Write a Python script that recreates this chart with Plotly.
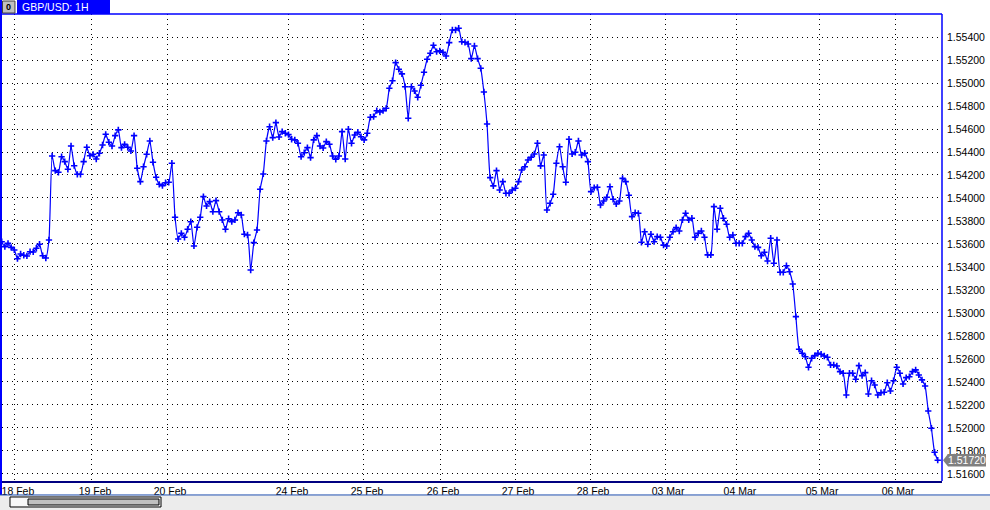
import plotly.graph_objects as go

chart_title = "GBP/USD: 1H"

# hourly closes (bar 0 .. bar 297)
close = [
    1.53620, 1.53577, 1.53606, 1.53571, 1.53548, 1.53472, 1.53513, 1.53502, 1.53496, 1.53533,
    1.53531, 1.53563, 1.53598, 1.53498, 1.53478, 1.53635, 1.54365, 1.54238, 1.54224, 1.54359,
    1.54316, 1.54250, 1.54452, 1.54281, 1.54206, 1.54206, 1.54316, 1.54441, 1.54367, 1.54380,
    1.54339, 1.54389, 1.54461, 1.54554, 1.54485, 1.54452, 1.54542, 1.54592, 1.54438, 1.54467,
    1.54441, 1.54409, 1.54542, 1.54259, 1.54142, 1.54272, 1.54380, 1.54496, 1.54311, 1.54180,
    1.54119, 1.54107, 1.54133, 1.54137, 1.54302, 1.53832, 1.53644, 1.53693, 1.53658, 1.53728,
    1.53794, 1.53583, 1.53745, 1.53832, 1.54012, 1.53931, 1.53968, 1.53881, 1.53977, 1.53881,
    1.53809, 1.53728, 1.53820, 1.53794, 1.53809, 1.53872, 1.53852, 1.53685, 1.53678, 1.53374,
    1.53612, 1.53722, 1.54076, 1.54209, 1.54496, 1.54620, 1.54525, 1.54655, 1.54531, 1.54577,
    1.54563, 1.54551, 1.54511, 1.54505, 1.54476, 1.54359, 1.54394, 1.54438, 1.54351, 1.54505,
    1.54542, 1.54452, 1.54435, 1.54490, 1.54467, 1.54365, 1.54337, 1.54365, 1.54577, 1.54339,
    1.54598, 1.54476, 1.54548, 1.54572, 1.54533, 1.54505, 1.54563, 1.54702, 1.54707, 1.54759,
    1.54748, 1.54759, 1.54780, 1.54954, 1.55020, 1.55177, 1.55119, 1.55079, 1.54968, 1.54693,
    1.54968, 1.54931, 1.54876, 1.54980, 1.55093, 1.55206, 1.55259, 1.55328, 1.55272, 1.55279,
    1.55267, 1.55235, 1.55351, 1.55461, 1.55461, 1.55476, 1.55359, 1.55354, 1.55339, 1.55212,
    1.55322, 1.55212, 1.55128, 1.54922, 1.54644, 1.54177, 1.54105, 1.54238, 1.54070, 1.54142,
    1.54041, 1.54041, 1.54070, 1.54085, 1.54142, 1.54244, 1.54272, 1.54331, 1.54354, 1.54383,
    1.54476, 1.54279, 1.54374, 1.53896, 1.53954, 1.54032, 1.54302, 1.54446, 1.54272, 1.54137,
    1.54511, 1.54383, 1.54398, 1.54496, 1.54374, 1.54389, 1.54316, 1.54055, 1.54090, 1.54093,
    1.53939, 1.53974, 1.54006, 1.54098, 1.53989, 1.53948, 1.53974, 1.54171, 1.54142, 1.54024,
    1.53838, 1.53872, 1.53867, 1.53615, 1.53707, 1.53598, 1.53685, 1.53620, 1.53664, 1.53658,
    1.53590, 1.53583, 1.53658, 1.53707, 1.53742, 1.53713, 1.53809, 1.53867, 1.53809, 1.53824,
    1.53658, 1.53693, 1.53713, 1.53658, 1.53505, 1.53505, 1.53925, 1.53728, 1.53911, 1.53824,
    1.53772, 1.53658, 1.53678, 1.53606, 1.53606, 1.53606, 1.53664, 1.53693, 1.53635, 1.53577,
    1.53571, 1.53498, 1.53528, 1.53452, 1.53650, 1.53432, 1.53635, 1.53354, 1.53354, 1.53411,
    1.53359, 1.53252, 1.52968, 1.52685, 1.52650, 1.52620, 1.52528, 1.52606, 1.52629, 1.52650,
    1.52641, 1.52626, 1.52615, 1.52548, 1.52548, 1.52539, 1.52490, 1.52476, 1.52287, 1.52476,
    1.52476, 1.52424, 1.52542, 1.52455, 1.52481, 1.52296, 1.52411, 1.52374, 1.52287, 1.52307,
    1.52311, 1.52394, 1.52322, 1.52411, 1.52528, 1.52476, 1.52383, 1.52438, 1.52446, 1.52490,
    1.52505, 1.52461, 1.52418, 1.52365, 1.52148, 1.51998, 1.51789, 1.51720,
]
bars = list(range(len(close)))

day_labels = ["18 Feb", "19 Feb", "20 Feb", "24 Feb", "25 Feb", "26 Feb",
              "27 Feb", "28 Feb", "03 Mar", "04 Mar", "05 Mar", "06 Mar"]
day_bars = [4.2, 28.65, 52.45, 91.15, 114.95, 139.1, 162.9, 186.7, 210.5, 233.3, 259.35, 283.45]

price_ticks = [1.516, 1.518, 1.520, 1.522, 1.524, 1.526, 1.528, 1.530, 1.532, 1.534,
               1.536, 1.538, 1.540, 1.542, 1.544, 1.546, 1.548, 1.550, 1.552, 1.554]
price_labels = [f"{v:.5f}" for v in price_ticks]

BLUE = "#0000ff"
FONT = "Liberation Sans"

fig = go.Figure()
fig.add_trace(go.Scatter(
    x=bars, y=close, mode="lines+markers",
    line=dict(color=BLUE, width=1.2, shape="spline", smoothing=0.5),
    marker=dict(symbol="cross-thin", size=4.5, color=BLUE, line=dict(width=1.6, color=BLUE)),
    hoverinfo="skip", showlegend=False,
))

last = close[-1]
half_h = 0.00054

shapes = [
    # plot frame top/right
    dict(type="line", xref="paper", yref="paper", x0=0, x1=1, y0=1, y1=1,
         line=dict(color=BLUE, width=1.5), layer="above"),
    dict(type="line", xref="paper", yref="paper", x0=1, x1=1, y0=0, y1=1,
         line=dict(color=BLUE, width=1.5), layer="above"),
    # window left border
    dict(type="line", xref="paper", yref="paper", x0=-0.00106, x1=-0.00106, y0=-0.03, y1=1.04,
         line=dict(color=BLUE, width=2), layer="above"),
    # bottom strip
    dict(type="rect", xref="paper", yref="paper", x0=-0.003, x1=1.06, y0=-0.0299, y1=-0.07,
         fillcolor="#ececec", line=dict(width=0), layer="above"),
    dict(type="line", xref="paper", yref="paper", x0=-0.003, x1=1.06, y0=-0.0299, y1=-0.0299,
         line=dict(color="#2050b0", width=1), layer="above"),
    # scrollbar
    dict(type="rect", xref="paper", yref="paper", x0=0.0085, x1=0.16915, y0=-0.03426, y1=-0.05567,
         fillcolor="#f8f8f8", line=dict(color="#000000", width=1), layer="above"),
    dict(type="rect", xref="paper", yref="paper", x0=0.02766, x1=0.16702, y0=-0.03854, y1=-0.05139,
         fillcolor="#c0c0c0", line=dict(color="#000000", width=1), layer="above"),
    # title tab
    dict(type="rect", xref="paper", yref="paper", x0=0.01596, x1=0.11489, y0=1.0, y1=1.03,
         fillcolor=BLUE, line=dict(width=0), layer="above"),
    dict(type="rect", xref="paper", yref="paper", x0=0.0005, x1=0.0138, y0=1.0021, y1=1.0278,
         fillcolor="#c0c0c0", line=dict(color="#404040", width=1), layer="above"),
    # last price marker
    dict(type="path", xref="paper", yref="y",
         path=(f"M 1.00106 {last} L 1.00638 {last + half_h} L 1.04681 {last + half_h} "
               f"L 1.04681 {last - half_h} L 1.00638 {last - half_h} Z"),
         fillcolor="#808080", line=dict(width=0), layer="above"),
]

annotations = [
    dict(xref="paper", yref="paper", x=0.0192, y=1.015, text=chart_title, showarrow=False,
         xanchor="left", yanchor="middle", font=dict(family=FONT, size=10.5, color="#ffffff")),
    dict(xref="paper", yref="paper", x=0.0071, y=1.015, text="<b>0</b>", showarrow=False,
         xanchor="center", yanchor="middle", font=dict(family=FONT, size=9, color="#000000")),
    dict(xref="paper", yref="y", x=1.0265, y=last, text=f"{last:.5f}", showarrow=False,
         xanchor="center", yanchor="middle", borderpad=0,
         font=dict(family=FONT, size=10.5, color="#ffffff")),
]

fig.update_layout(
    width=990, height=510,
    margin=dict(l=2, r=48, t=14, b=29),
    paper_bgcolor="#ffffff", plot_bgcolor="#ffffff",
    font=dict(family=FONT, size=10.5, color="#000000"),
    shapes=shapes, annotations=annotations,
    xaxis=dict(
        range=[0.095, 298.36], tickvals=day_bars, ticktext=day_labels,
        showgrid=True, gridcolor="#000000", griddash="1px,4px", gridwidth=1,
        zeroline=False, showline=True, linecolor="#000080", linewidth=1.5,
        ticks="", ticklabelshift=3, ticklabelstandoff=0,
        tickfont=dict(family=FONT, size=10.5, color="#000000"),
        fixedrange=True,
    ),
    yaxis=dict(
        side="right", range=[1.51539, 1.55600], tickvals=price_ticks, ticktext=price_labels,
        showgrid=True, gridcolor="#000000", griddash="1px,4px", gridwidth=1,
        zeroline=False, showline=False, ticks="", ticklabelstandoff=4,
        tickfont=dict(family=FONT, size=10.5, color="#000000"),
        fixedrange=True,
    ),
)

fig.write_html("out.html", config={"displayModeBar": False},
               post_script="document.body.style.margin='0';")
